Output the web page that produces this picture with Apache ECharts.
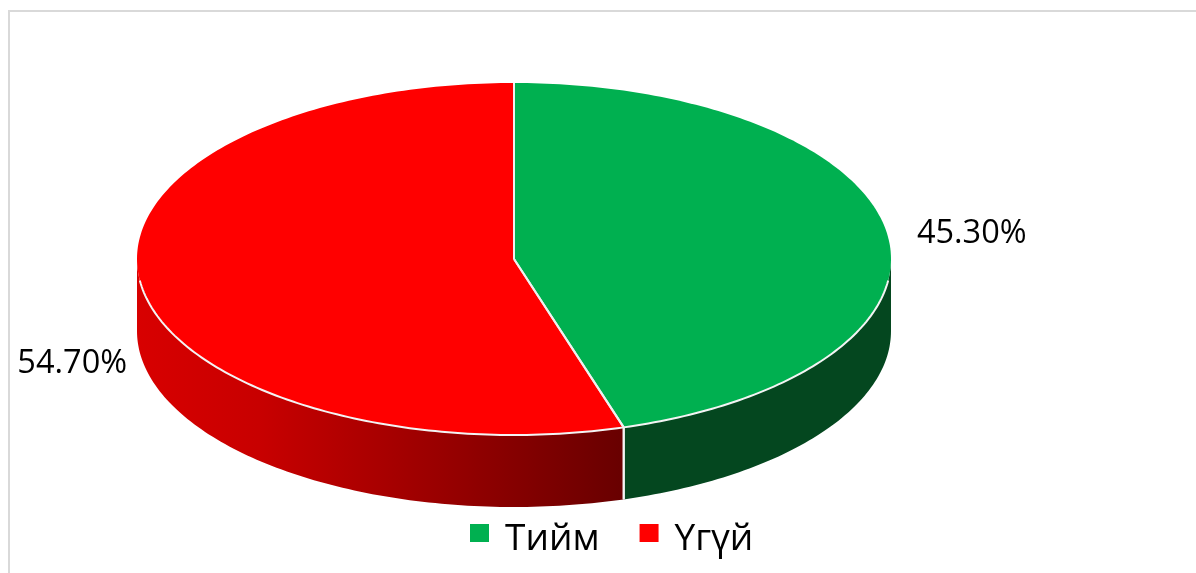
<!DOCTYPE html>
<html>
<head>
<meta charset="utf-8">
<script src="https://cdn.jsdelivr.net/npm/echarts@6/dist/echarts.min.js"></script>
<style>html,body{margin:0;padding:0;background:#fff}#main{width:1196px;height:573px}</style>
</head>
<body>
<div id="main"></div>
<script>
const categories = ['Тийм', 'Үгүй'];
const shares = [45.3, 54.7];

const sliceColors = ['#00B050', '#FF0000'];
const wallStops = [
  [[0, '#04471F'], [1, '#04471F']],
  [[0, '#D80000'], [0.25, '#C80000'], [0.6, '#9C0000'], [1, '#680000']]
];
const disc = { cx: 514, cy: 259, rx: 377, ry: 176, depth: 72 };
const labelShift = [
  { dx: 30, dy: 1, align: 'left' },
  { dx: -14, dy: 7, align: 'right' }
];
const total = shares.reduce((a, b) => a + b, 0);

function rimPoint(deg, drop) {
  const t = deg * Math.PI / 180;
  return [disc.cx + disc.rx * Math.sin(t), disc.cy - disc.ry * Math.cos(t) + (drop || 0)];
}
function arc(fromDeg, toDeg, drop) {
  const pts = [];
  const n = Math.max(2, Math.ceil(Math.abs(toDeg - fromDeg)));
  for (let i = 0; i <= n; i++) pts.push(rimPoint(fromDeg + (toDeg - fromDeg) * i / n, drop));
  return pts;
}
const whiteLine = { stroke: '#F4F4F4', lineWidth: 2, fill: null };

function renderSlice(params, api) {
  const idx = params.seriesIndex;
  const start = api.value(1) / total * 360;
  const end = start + api.value(0) / total * 360;
  const mid = (start + end) / 2;
  const color = api.visual('color');
  const children = [];

  // side wall: only the part of the rim facing the viewer (90 deg to 270 deg)
  const wFrom = Math.max(start, 90), wTo = Math.min(end, 270);
  if (wTo > wFrom) {
    const top = arc(wFrom, wTo, 0), bottom = arc(wTo, wFrom, disc.depth);
    const xs = top.map(p => p[0]);
    const minX = Math.min.apply(null, xs), maxX = Math.max.apply(null, xs);
    children.push({
      type: 'polygon', shape: { points: top.concat(bottom) },
      style: {
        fill: {
          type: 'linear', x: minX, y: 0, x2: maxX, y2: 0, global: true,
          colorStops: wallStops[idx].map(s => ({ offset: s[0], color: s[1] }))
        }
      }
    });
    // rim highlight and vertical seam
    children.push({
      type: 'polyline', z2: 5,
      shape: { points: arc(Math.max(wFrom, 97), Math.min(wTo, 263), 0) },
      style: whiteLine
    });
    const seamDeg = wFrom > 90 ? wFrom : (wTo < 270 ? wTo : null);
    if (seamDeg !== null) {
      children.push({
        type: 'line', z2: 5,
        shape: {
          x1: rimPoint(seamDeg)[0], y1: rimPoint(seamDeg)[1],
          x2: rimPoint(seamDeg, disc.depth)[0], y2: rimPoint(seamDeg, disc.depth)[1]
        },
        style: { stroke: '#F4F4F4', lineWidth: 2 }
      });
    }
  }

  // top face
  children.push({
    type: 'polygon', z2: 3,
    shape: { points: [[disc.cx, disc.cy]].concat(arc(start, end, 0)) },
    style: { fill: color }
  });
  // radial edges
  [start, end].forEach(deg => {
    const p = rimPoint(deg);
    children.push({
      type: 'line', z2: 6,
      shape: { x1: disc.cx, y1: disc.cy, x2: p[0], y2: p[1] },
      style: { stroke: '#F0F0F0', lineWidth: 2 }
    });
  });

  // value label
  const shift = labelShift[idx];
  const anchor = rimPoint(mid, mid > 180 ? disc.depth : 0);
  children.push({
    type: 'text', z2: 10,
    style: {
      x: anchor[0] + shift.dx, y: anchor[1] + shift.dy,
      text: api.value(0).toFixed(2) + '%',
      fill: '#000', align: shift.align, verticalAlign: 'middle',
      fontFamily: '"Open Sans", "Noto Sans", sans-serif', fontSize: 32.5
    }
  });
  return { type: 'group', children };
}

let cumulative = 0;
const series = categories.map((name, i) => {
  const item = {
    type: 'custom', name, coordinateSystem: 'none',
    itemStyle: { color: sliceColors[i] },
    renderItem: renderSlice,
    silent: true,
    data: [[shares[i], cumulative]]
  };
  cumulative += shares[i];
  return item;
});

const chart = echarts.init(document.getElementById('main'), null, { renderer: 'canvas' });
chart.setOption({
  animation: false,
  backgroundColor: '#fff',
  legend: {
    data: categories.map(name => ({ name, icon: 'rect' })),
    left: 470, top: 521,
    padding: 0,
    itemWidth: 19, itemHeight: 18, itemGap: 40,
    selectedMode: false,
    formatter: name => '{s| }{t|' + name + '}',
    textStyle: {
      color: '#000', fontSize: 37, padding: [0, 0, 0, 11],
      fontFamily: '"Open Sans", "Noto Sans", sans-serif',
      rich: {
        s: { fontSize: 1, lineHeight: 50, width: 0 },
        t: {
          fontSize: 37, color: '#000', height: 37, lineHeight: 37, verticalAlign: 'bottom',
          fontFamily: '"Open Sans", "Noto Sans", sans-serif'
        }
      }
    }
  },
  graphic: [{
    type: 'rect', silent: true, z: -1,
    shape: { x: 9, y: 11, width: 1400, height: 800 },
    style: { fill: null, stroke: '#D9D9D9', lineWidth: 2 }
  }],
  series
});
</script>
</body>
</html>
